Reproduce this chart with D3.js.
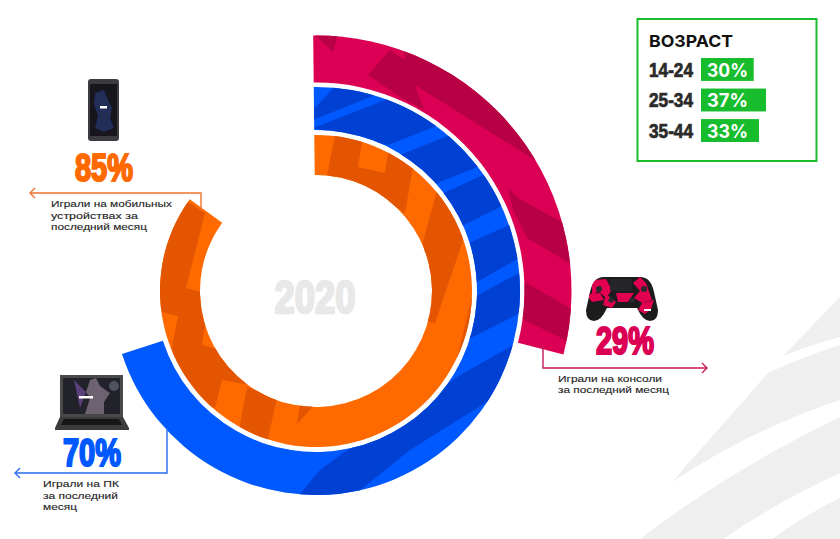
<!DOCTYPE html>
<html>
<head>
<meta charset="utf-8">
<style>
  html, body { margin: 0; padding: 0; background: #fff; }
  svg { display: block; }
</style>
<script src="https://cdn.jsdelivr.net/npm/d3@7"></script>
</head>
<body>
<svg id="chart" width="840" height="539"></svg>
<script>
/* DATA */
const platforms = ['Консоль', 'ПК', 'Мобильные'];
const platformShare = [29, 70, 85];
const centerYear = '2020';
const ageGroups = ['14-24', '25-34', '35-44'];
const ageShare = [30, 37, 33];

/* STYLE + LAYOUT */
const cx = 316, cy = 291;
const ringRadii = [[208.5, 255.5], [161, 204], [116, 156]];
const ringBase = ['#dc0055', '#0059ff', '#ff6a00'];
const ringDark = ['#b80045', '#0041d4', '#e35500'];
const green = '#17bd2c';
const narrow = '"Liberation Sans Narrow", "Liberation Sans"';

/* decorative darker patches on the rings, page coordinates */
const pinkPatches = [
  [[314,34],[333,52],[338,34]],
  [[368,75],[390,50],[405,60],[403,35],[490,60],[565,150],[535,160],[415,85],[424,110],[400,97]],
  [[508,188],[518,198],[576,230],[576,267],[527,238],[513,210]],
  [[525,282],[580,314],[580,347],[520,318]]
];
const bluePatches = [
  [[313,110],[335,86],[378,94],[313,120]],
  [[313,128],[385,100],[420,70],[470,113],[388,145]],
  [[395,157],[480,123],[495,160],[430,186]],
  [[435,197],[505,165],[520,197],[450,232]],
  [[460,247],[525,218],[530,252],[470,286]],
  [[465,302],[530,267],[530,308],[465,341]],
  [[300,494],[320,470],[343,453],[457,377],[513,345],[525,357],[490,400],[410,450],[353,496],[300,500]]
];
const orangePatches = [
  [[336,130],[364,130],[358,167],[385,173],[390,140],[416,150],[405,213],[367,190],[327,175]],
  [[437,190],[470,220],[435,323],[428,322],[423,242]],
  [[476,280],[456,362],[490,340],[490,280]],
  [[180,197],[205,213],[186,288],[210,294],[202,345],[218,349],[250,385],[222,380],[215,408],[177,397],[172,347],[178,316],[162,312],[153,290],[153,223]],
  [[247,387],[277,398],[267,443],[239,430]],
  [[300,405],[314,405],[297,424]]
];
const ringPatches = [pinkPatches, bluePatches, orangePatches];

const svg = d3.select('#chart');
const defs = svg.append('defs');
defs.append('filter').attr('id', 'soft').append('feGaussianBlur').attr('stdDeviation', 0.45);

/* BACKGROUND SHAPES */
const bgShapes = [
  'M783,356 L840,297 L840,337 Q810,345 783,356Z',
  'M672,482 L768,373 Q800,358 840,345 L840,400 Q750,430 672,482Z',
  'M640,539 Q730,470 840,417 L840,473 Q780,500 723,539Z',
  'M772,539 Q805,515 840,498 L840,539Z'
];
svg.selectAll('path.bg').data(bgShapes).join('path')
  .attr('class', 'bg').attr('d', d => d).attr('fill', '#efefef');

/* RINGS */
const angle = d3.scaleLinear().domain([0, 100]).range([0, 2 * Math.PI]);
const startNudge = -0.011;
const arc = d3.arc();

const rings = svg.append('g');
platformShare.forEach(function(v, i){
  const d = arc({
    innerRadius: ringRadii[i][0],
    outerRadius: ringRadii[i][1],
    startAngle: angle(0) + startNudge,
    endAngle: angle(v)
  });
  defs.append('clipPath').attr('id', 'ring' + i)
    .append('path').attr('d', d).attr('transform', `translate(${cx},${cy})`);
  rings.append('path').attr('d', d).attr('transform', `translate(${cx},${cy})`)
    .attr('fill', ringBase[i]).attr('data-name', platforms[i]);
  rings.append('g').attr('clip-path', `url(#ring${i})`)
    .selectAll('polygon').data(ringPatches[i]).join('polygon')
    .attr('points', p => p.join(' '))
    .attr('fill', ringDark[i]);
});

svg.append('text').text(centerYear)
  .attr('x', 315).attr('y', 313).attr('text-anchor', 'middle')
  .attr('font-family', narrow).attr('font-weight', 700)
  .attr('font-size', 46).attr('fill', '#e8e8e8').attr('stroke', '#e8e8e8').attr('stroke-width', 2.6)
  .attr('textLength', 81).attr('lengthAdjust', 'spacingAndGlyphs');

/* LEADERS */
function leader(points, head, color){
  svg.append('path').attr('d', d3.line()(points))
    .attr('fill', 'none').attr('stroke', color).attr('stroke-width', 1.4);
  svg.append('path').attr('d', d3.line()(head))
    .attr('fill', 'none').attr('stroke', color).attr('stroke-width', 1.4);
}
leader([[201,210],[201,193],[30,193]], [[35,188],[30,193],[35,198]], '#f0732c');
leader([[167,428],[167,473],[15,473]], [[20,468],[15,473],[20,478]], '#2a6bf0');
leader([[543,346],[543,368],[707,368]], [[702,363],[707,368],[702,373]], '#c41a5c');

/* BIG PERCENTS */
const bigLabels = [
  {i: 2, x: 75, y: 181, w: 58, color: ringBase[2]},
  {i: 1, x: 63, y: 466, w: 58, color: ringBase[1]},
  {i: 0, x: 596, y: 354, w: 58, color: ringBase[0]}
];
svg.selectAll('text.big').data(bigLabels).join('text')
  .attr('class', 'big').text(d => platformShare[d.i] + '%')
  .attr('x', d => d.x).attr('y', d => d.y)
  .attr('font-family', narrow).attr('font-weight', 700)
  .attr('font-size', 39).attr('fill', d => d.color).attr('stroke', d => d.color).attr('stroke-width', 2.2)
  .attr('textLength', d => d.w).attr('lengthAdjust', 'spacingAndGlyphs');

/* CAPTIONS */
const captions = [
  {x: 51, y: 207, t: 'Играли на мобильных', w: 121},
  {x: 51, y: 218.5, t: 'устройствах за', w: 87},
  {x: 51, y: 230, t: 'последний месяц', w: 96},
  {x: 43, y: 487, t: 'Играли на ПК', w: 76},
  {x: 43, y: 498.5, t: 'за последний', w: 75},
  {x: 43, y: 510, t: 'месяц', w: 34},
  {x: 558, y: 381.5, t: 'Играли на консоли', w: 104},
  {x: 558, y: 393, t: 'за последний месяц', w: 111}
];
svg.selectAll('text.cap').data(captions).join('text')
  .attr('class', 'cap').text(d => d.t).attr('x', d => d.x).attr('y', d => d.y)
  .attr('font-family', '"Liberation Sans", sans-serif').attr('font-size', 9.9).attr('fill', '#222')
  .attr('stroke', '#222').attr('stroke-width', 0.12)
  .attr('textLength', d => d.w).attr('lengthAdjust', 'spacingAndGlyphs');

/* AGE BOX */
svg.append('rect').attr('x', 637.5).attr('y', 19).attr('width', 179).attr('height', 142)
  .attr('fill', '#fff').attr('stroke', green).attr('stroke-width', 2);
svg.append('text').text('ВОЗРАСТ').attr('x', 649).attr('y', 47)
  .attr('font-family', 'Inter, sans-serif').attr('font-weight', 700).attr('font-size', 16.5).attr('fill', '#111')
  .attr('textLength', 84).attr('lengthAdjust', 'spacingAndGlyphs');

const ageY = d3.scaleBand().domain(ageGroups).range([58, 142]).paddingInner(0.25);
const ageW = d3.scaleLinear().domain([0, 37]).range([0, 65]);
const ageRows = svg.selectAll('g.age').data(ageGroups).join('g').attr('class', 'age');
ageRows.append('text').text(d => d)
  .attr('x', 649).attr('y', d => ageY(d) + 18.5)
  .attr('font-family', narrow).attr('font-weight', 700)
  .attr('font-size', 20).attr('fill', '#2a2a2a').attr('stroke', '#2a2a2a').attr('stroke-width', 0.7)
  .attr('textLength', 44).attr('lengthAdjust', 'spacingAndGlyphs');
ageRows.append('rect')
  .attr('x', 701).attr('y', d => ageY(d)).attr('height', ageY.bandwidth())
  .attr('width', (d, i) => ageW(ageShare[i])).attr('fill', green);
ageRows.append('text').text((d, i) => ageShare[i] + '%')
  .attr('x', 707).attr('y', d => ageY(d) + 18.5)
  .attr('font-family', 'Inter, sans-serif').attr('font-weight', 700).attr('font-size', 18.5).attr('fill', '#fff')
  .attr('textLength', 41).attr('lengthAdjust', 'spacingAndGlyphs');

/* ICONS - phone */
const phone = svg.append('g').attr('filter', 'url(#soft)');
phone.append('rect').attr('x', 88).attr('y', 79).attr('width', 31).attr('height', 62).attr('rx', 3).attr('fill', '#3a3a40');
phone.append('rect').attr('x', 90).attr('y', 84).attr('width', 27).attr('height', 52).attr('fill', '#14141d');
phone.append('path').attr('d', 'M95,93 L104,90 L108,100 L112,108 L110,118 L114,128 L104,132 L95,128 L98,116 L94,104Z')
  .attr('fill', '#2a3a72').attr('opacity', 0.7);
phone.append('rect').attr('x', 100).attr('y', 106).attr('width', 7).attr('height', 2.5).attr('fill', '#fff');

/* laptop */
const laptop = svg.append('g').attr('filter', 'url(#soft)');
laptop.append('rect').attr('x', 60).attr('y', 375).attr('width', 63).attr('height', 42).attr('fill', '#4a4a4a');
laptop.append('rect').attr('x', 63).attr('y', 378).attr('width', 57).attr('height', 36).attr('fill', '#20202c');
laptop.append('path').attr('d', 'M85,414 L90,398 L86,392 L90,380 L96,378 L100,386 L110,393 L104,402 L104,414Z').attr('fill', '#6d6270');
laptop.append('path').attr('d', 'M74,380 L86,392 L80,408Z').attr('fill', '#5b3f7a');
laptop.append('circle').attr('cx', 114).attr('cy', 386).attr('r', 5).attr('fill', '#6f7480').attr('opacity', 0.6);
laptop.append('rect').attr('x', 79).attr('y', 396).attr('width', 14).attr('height', 2.5).attr('fill', '#fff');
laptop.append('path').attr('d', 'M60,417 L123,417 L129,428 L129,430 L55,430 L55,428Z').attr('fill', '#3a3a3a');
laptop.append('path').attr('d', 'M64,419 L119,419 L122,425 L61,425Z').attr('fill', '#151515');

/* gamepad */
const padBody = 'M604,277 L640,277 Q651,277 654,292 L658,310 Q658,321 650,321 Q643,321 637,308 L607,308 Q601,321 594,321 Q586,321 586,310 L590,292 Q593,277 604,277Z';
defs.append('clipPath').attr('id', 'pad').append('path').attr('d', padBody);
const pad = svg.append('g').attr('filter', 'url(#soft)');
pad.append('path').attr('d', padBody).attr('fill', '#1c1a1e');
pad.append('g').attr('clip-path', 'url(#pad)')
  .selectAll('polygon').data([
    [[592,280],[606,279],[612,290],[606,298],[598,291],[592,296]],
    [[586,294],[600,293],[604,300],[592,302]],
    [[606,294],[616,302],[612,308],[603,305]],
    [[616,293],[634,293],[628,302],[618,302]],
    [[633,283],[640,277],[646,283],[652,300],[642,303],[634,298],[640,291]],
    [[642,303],[654,300],[651,309],[645,314],[638,310]]
  ]).join('polygon').attr('points', p => p.join(' ')).attr('fill', '#e0004f');
pad.append('rect').attr('x', 610).attr('y', 279).attr('width', 22).attr('height', 12).attr('rx', 1).attr('fill', '#26252a');
pad.selectAll('circle').data([[599,289,3],[644,289,3],[611,300,2.6],[632,300,2.6]]).join('circle')
  .attr('cx', d => d[0]).attr('cy', d => d[1]).attr('r', d => d[2]).attr('fill', '#2b2b2e');
pad.append('rect').attr('x', 644).attr('y', 309).attr('width', 7).attr('height', 2).attr('fill', '#fff');
</script>
</body>
</html>
